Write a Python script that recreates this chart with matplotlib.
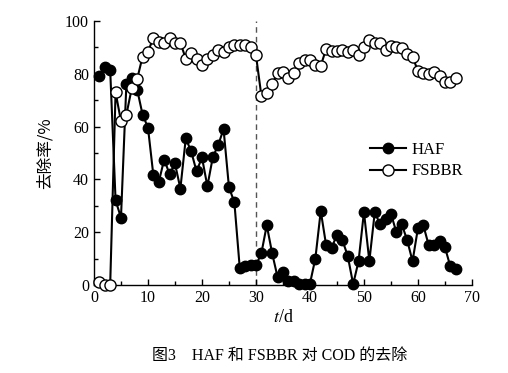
import matplotlib
matplotlib.use("Agg")
import matplotlib.pyplot as plt
from matplotlib.ticker import MultipleLocator

plt.rcParams['font.family'] = ['Liberation Serif', 'Noto Sans CJK SC']
plt.rcParams['mathtext.fontset'] = 'stix'

days_haf = list(range(1, 68))
haf = [79, 82.5, 81.5, 32, 25.5, 76, 78.5, 74, 64.5, 59.6,
       41.5, 39, 47.5, 42, 46, 36.5, 55.5, 50.6, 43, 48.3,
       37.4, 48.3, 53, 59, 37, 31.3, 6.4, 7.2, 7.5, 7.4,
       12, 22.6, 12, 3, 5, 1.5, 1.5, 0.5, 0.5, 0.5,
       10, 28, 15, 14, 19, 17, 11, 0.3, 9, 27.6,
       9, 27.5, 23, 25, 27, 20, 23, 17, 9, 21.5,
       22.6, 15, 15, 16.6, 14.3, 7, 6]

days_fsbbr = list(range(1, 68))
fsbbr = [1, 0, 0, 73, 62, 64.5, 74.5, 78, 86.5, 88.3,
         93.6, 92, 91.7, 93.6, 91.7, 91.7, 85.7, 88, 85.7, 83.4,
         85.7, 87, 89, 88.3, 90.2, 91, 91, 91, 90, 87,
         71.7, 72.8, 76, 80.2, 80.8, 78.5, 80.4, 84, 85.3, 85.3,
         83.4, 83, 89.4, 88.7, 88.7, 89, 88.3, 89, 87, 90,
         92.8, 91.7, 91.7, 89, 90.6, 90.2, 89.8, 87.5, 86.4, 81,
         80.4, 80, 80.8, 79, 77, 77, 78.5]

series_names = ['HAF', 'FSBBR']
x_ticks = [0, 10, 20, 30, 40, 50, 60, 70]
y_ticks = [0, 20, 40, 60, 80, 100]
split_day = 30

fig = plt.figure(figsize=(5.08, 3.73), dpi=100)
ax = fig.add_axes([0.185, 0.236, 0.744, 0.708])

ax.plot(days_haf, haf, '-o', color='black', markerfacecolor='black',
        markeredgecolor='black', markersize=7.5, linewidth=1.5,
        label=series_names[0], clip_on=False, zorder=3)
ax.plot(days_fsbbr, fsbbr, '-o', color='black', markerfacecolor='white',
        markeredgecolor='black', markersize=8, markeredgewidth=1.0,
        linewidth=1.5, label=series_names[1], clip_on=False, zorder=4)
ax.plot([split_day, split_day], [0, 100], linestyle=(0, (4, 3)),
        color='#555555', linewidth=1.0, zorder=1)

ax.set_xlim(0, 70)
ax.set_ylim(0, 100)
ax.set_xticks(x_ticks)
ax.set_yticks(y_ticks)
ax.xaxis.set_minor_locator(MultipleLocator(5))
ax.yaxis.set_minor_locator(MultipleLocator(10))
ax.tick_params(which='both', direction='in', labelsize=11.5, width=1.0)
ax.tick_params(which='major', length=4)
ax.tick_params(which='minor', length=3)
ax.spines['top'].set_visible(False)
ax.spines['right'].set_visible(False)
for s in ['left', 'bottom']:
    ax.spines[s].set_linewidth(1.0)

ax.set_ylabel('去除率/%', fontsize=12, family=['Noto Sans CJK SC'], labelpad=8)
ax.set_xlabel('$t$/d', fontsize=13, labelpad=2)

leg = ax.legend(loc='upper left', bbox_to_anchor=(0.69, 0.60), frameon=False,
                fontsize=12, handlelength=2.2, handletextpad=0.3,
                labelspacing=0.35)

fig.text(0.55, 0.045, '图3　HAF 和 FSBBR 对 COD 的去除', ha='center', va='center',
         fontsize=11.5, family=['Liberation Serif', 'Noto Sans CJK SC'])

fig.savefig('out.png', dpi=100)
